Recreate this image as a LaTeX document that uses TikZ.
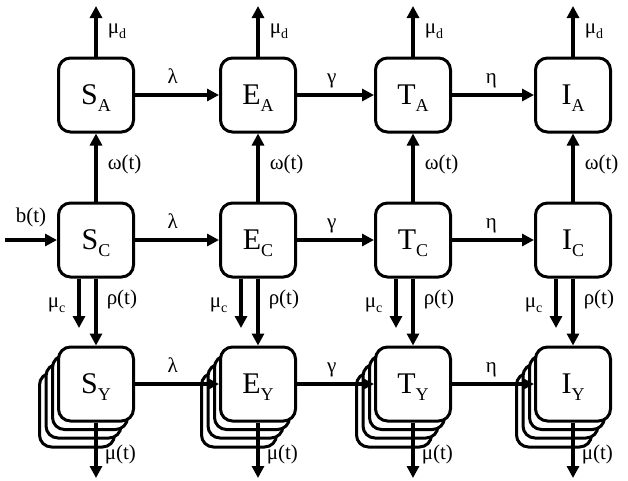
\documentclass[tikz,border=0pt]{standalone}
\usepackage{fontspec}
\setmainfont{Liberation Serif}
\usetikzlibrary{positioning, arrows.meta, shadows}
\newcommand{\bsub}[1]{\raisebox{-7pt}[0pt][0pt]{\fontsize{18}{18}\selectfont #1}}
\newcommand{\lsub}[1]{\raisebox{-5pt}[0pt][0pt]{\fontsize{14}{14}\selectfont #1}}
\tikzset{%
	>={Triangle[length=12pt, width=12pt]},
	comp/.style = {name = #1, draw, fill = white, line width = 3pt, rounded corners = 12pt, minimum width = 75pt, minimum height = 74pt, inner sep = 0pt, font = \fontsize{30}{30}\selectfont},
	stack/.style = {copy shadow = {shadow xshift = -19pt, shadow yshift = -26pt, draw = black, fill = white},
		copy shadow = {shadow xshift = -12.5pt, shadow yshift = -17pt, draw = black, fill = white},
		copy shadow = {shadow xshift = -6pt, shadow yshift = -8.5pt, draw = black, fill = white}},
	flow/.style = {->, line width = 3.5pt},
	rate/.style = {font = \fontsize{21}{21}\selectfont, inner sep = 1pt, text height = 15pt, text depth = 5pt}
}

\begin{document}
\begin{tikzpicture}[x = 1pt, y = -1pt]
	\useasboundingbox (0,0) rectangle (628,480);
	% adults
	\node [comp = SA] at (96,95) {S\bsub{A}};
	\node [comp = EA] at (258,95) {E\bsub{A}};
	\node [comp = TA] at (413,95) {T\bsub{A}};
	\node [comp = IA] at (573,95) {I\bsub{A}};
	% children
	\node [comp = SC] at (96,240) {S\bsub{C}};
	\node [comp = EC] at (258,240) {E\bsub{C}};
	\node [comp = TC] at (413,240) {T\bsub{C}};
	\node [comp = IC] at (573,240) {I\bsub{C}};
	% yearly cohorts
	\node [comp = SY, stack] at (96,384) {S\bsub{Y}};
	\node [comp = EY, stack] at (258,384) {E\bsub{Y}};
	\node [comp = TY, stack] at (413,384) {T\bsub{Y}};
	\node [comp = IY, stack] at (573,384) {I\bsub{Y}};
	% free ends
	\coordinate (dSA) at (96,6);
	\coordinate (dEA) at (258,6);
	\coordinate (dTA) at (413,6);
	\coordinate (dIA) at (573,6);
	\coordinate (birth) at (5,240);
	\coordinate (cSC) at (79,328);
	\coordinate (cEC) at (241,328);
	\coordinate (cTC) at (396,328);
	\coordinate (cIC) at (556,328);
	\coordinate (mSY) at (96,478);
	\coordinate (mEY) at (258,478);
	\coordinate (mTY) at (413,478);
	\coordinate (mIY) at (573,478);

	\path [flow] (SA) edge node [rate, above = 4pt, pos = 0.45] {λ} (EA);
	\path [flow] (EA) edge node [rate, above = 4pt, pos = 0.45] {γ} (TA);
	\path [flow] (TA) edge node [rate, above = 4pt, pos = 0.48] {η} (IA);
	\path [flow] (SC) edge node [rate, above = 4pt, pos = 0.45] {λ} (EC);
	\path [flow] (EC) edge node [rate, above = 4pt, pos = 0.45] {γ} (TC);
	\path [flow] (TC) edge node [rate, above = 4pt, pos = 0.48] {η} (IC);
	\path [flow] (SY) edge node [rate, above = 4pt, pos = 0.45] {λ} (EY);
	\path [flow] (EY) edge node [rate, above = 4pt, pos = 0.45] {γ} (TY);
	\path [flow] (TY) edge node [rate, above = 4pt, pos = 0.48] {η} (IY);

	\path [flow] (birth) edge node [rate, above = 10pt, pos = 0.5] {b(t)} (SC);

	\path [flow] (SA) edge node [rate, right = 9pt, pos = 0.55] {μ\lsub{d}} (dSA);
	\path [flow] (EA) edge node [rate, right = 9pt, pos = 0.55] {μ\lsub{d}} (dEA);
	\path [flow] (TA) edge node [rate, right = 9pt, pos = 0.55] {μ\lsub{d}} (dTA);
	\path [flow] (IA) edge node [rate, right = 9pt, pos = 0.55] {μ\lsub{d}} (dIA);

	\path [flow] (SC) edge node [rate, right = 9pt, pos = 0.55] {ω(t)} (SA);
	\path [flow] (EC) edge node [rate, right = 9pt, pos = 0.55] {ω(t)} (EA);
	\path [flow] (TC) edge node [rate, right = 9pt, pos = 0.55] {ω(t)} (TA);
	\path [flow] (IC) edge node [rate, right = 9pt, pos = 0.55] {ω(t)} (IA);

	\path [flow] (SC.south -| cSC) edge node [rate, left = 11pt, pos = 0.48] {μ\lsub{c}} (cSC);
	\path [flow] (EC.south -| cEC) edge node [rate, left = 11pt, pos = 0.48] {μ\lsub{c}} (cEC);
	\path [flow] (TC.south -| cTC) edge node [rate, left = 11pt, pos = 0.48] {μ\lsub{c}} (cTC);
	\path [flow] (IC.south -| cIC) edge node [rate, left = 11pt, pos = 0.48] {μ\lsub{c}} (cIC);

	\path [flow] (SC) edge node [rate, right = 8pt, pos = 0.32] {ρ(t)} (SY);
	\path [flow] (EC) edge node [rate, right = 8pt, pos = 0.32] {ρ(t)} (EY);
	\path [flow] (TC) edge node [rate, right = 8pt, pos = 0.32] {ρ(t)} (TY);
	\path [flow] (IC) edge node [rate, right = 8pt, pos = 0.32] {ρ(t)} (IY);

	\path [flow] (SY) edge node [rate, right = 6pt, pos = 0.57] {μ(t)} (mSY);
	\path [flow] (EY) edge node [rate, right = 6pt, pos = 0.57] {μ(t)} (mEY);
	\path [flow] (TY) edge node [rate, right = 6pt, pos = 0.57] {μ(t)} (mTY);
	\path [flow] (IY) edge node [rate, right = 6pt, pos = 0.57] {μ(t)} (mIY);
\end{tikzpicture}
\end{document}
